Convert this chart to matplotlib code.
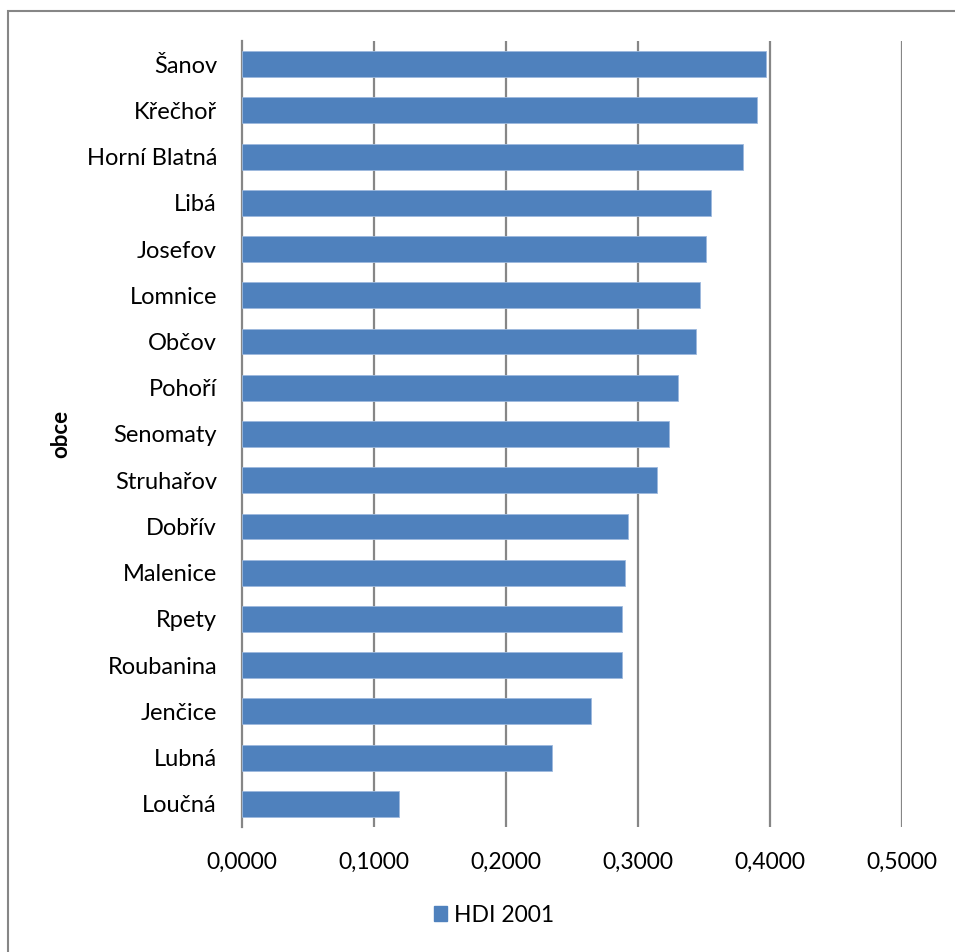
import matplotlib
matplotlib.use("Agg")
import matplotlib.pyplot as plt
from matplotlib.patches import Rectangle, Patch

obce = ["Šanov", "Křečhoř", "Horní Blatná", "Libá", "Josefov", "Lomnice", "Občov",
        "Pohoří", "Senomaty", "Struhařov", "Dobřív", "Malenice", "Rpety",
        "Roubanina", "Jenčice", "Lubná", "Loučná"]
hdi_2001 = [0.3971, 0.3903, 0.3799, 0.3554, 0.3516, 0.3472, 0.3437,
            0.3303, 0.3237, 0.3141, 0.2926, 0.2903, 0.2880,
            0.2875, 0.2645, 0.2352, 0.1190]
x_ticks = [0.0, 0.1, 0.2, 0.3, 0.4, 0.5]
x_labels = ["0,0000", "0,1000", "0,2000", "0,3000", "0,4000", "0,5000"]

plt.rcParams['font.family'] = ['Lato', 'DejaVu Sans']
bar_col = "#4f81bd"
grid_col = "#868686"

fig = plt.figure(figsize=(9.55, 9.52), dpi=100)
ax = fig.add_axes([242 / 955, 1 - 827 / 952, (902 - 242) / 955, (827 - 41) / 952])

pos = list(range(len(obce)))
ax.barh(pos, hdi_2001, height=0.56, color=bar_col, edgecolor="#9db9dd", linewidth=0.6, zorder=3)
ax.set_ylim(len(obce) - 0.5, -0.5)
ax.set_xlim(0, 0.5)
ax.set_yticks(pos)
ax.set_yticklabels(obce, fontsize=17)
ax.set_xticks(x_ticks)
ax.set_xticklabels(x_labels, fontsize=16.5)
ax.tick_params(axis="both", length=0)
ax.tick_params(axis="x", pad=18)
ax.tick_params(axis="y", pad=18)

for t in x_ticks[1:]:
    ax.axvline(t, color=grid_col, linewidth=1.6, zorder=1)
for s in ["top", "right", "bottom"]:
    ax.spines[s].set_visible(False)
ax.spines["left"].set_color(grid_col)
ax.spines["left"].set_linewidth(1.6)

ax.set_ylabel("obce", fontsize=16, fontweight="bold", labelpad=11)

fig.legend(handles=[Patch(color=bar_col, label="HDI 2001")], loc="center",
           bbox_to_anchor=(494 / 955, 1 - 915 / 952), frameon=False, fontsize=16.5,
           handlelength=0.6, handleheight=0.6, handletextpad=0.3)

fig.patches.append(Rectangle((8 / 955, -0.1), 1.2, 1.1 - 11 / 952, transform=fig.transFigure,
                             fill=False, edgecolor=grid_col, linewidth=1.5))

fig.savefig("out.png", dpi=100)
